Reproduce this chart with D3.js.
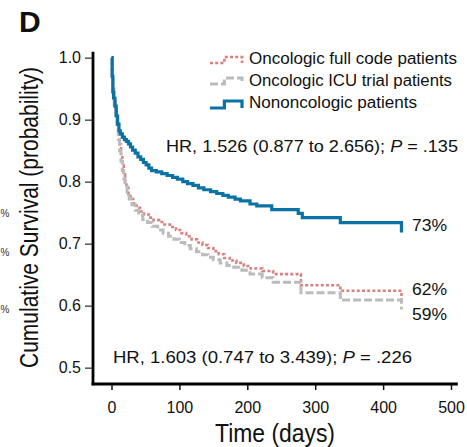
<!DOCTYPE html>
<html>
<head>
<meta charset="utf-8">
<script src="https://cdn.jsdelivr.net/npm/d3@7"></script>
<style>
  body { margin: 0; background: #fff; }
  svg { display: block; font-family: "Liberation Sans", Arial, sans-serif; }
</style>
</head>
<body>
<div class="container"></div>
<script>
const w = 467, h = 447;

// Kaplan-Meier steps: [days, survival]
const nononcologic = [
  [0, 1], [1, 0.97], [2, 0.945], [3, 0.935], [5, 0.922], [7, 0.906], [9, 0.893], [11, 0.882],
  [13, 0.877], [16, 0.872], [19, 0.868], [22, 0.865], [25, 0.861], [28, 0.856], [31, 0.851],
  [35, 0.846], [39, 0.84], [43, 0.836], [47, 0.831], [51, 0.827], [55, 0.822], [59, 0.818],
  [66, 0.816], [74, 0.813], [82, 0.81], [90, 0.807], [97, 0.804], [105, 0.8], [112, 0.797],
  [120, 0.794], [128, 0.79], [136, 0.787], [146, 0.784], [155, 0.781], [164, 0.778],
  [172, 0.775], [182, 0.772], [190, 0.769], [204, 0.764], [214, 0.761], [236, 0.755],
  [275, 0.749], [281, 0.742], [337, 0.734], [427, 0.718]
];
const fullCode = [
  [0, 1], [1, 0.97], [2, 0.95], [4, 0.93], [6, 0.914], [8, 0.895], [10, 0.877], [12, 0.86],
  [14, 0.842], [16, 0.826], [18, 0.812], [20, 0.8], [22, 0.79], [25, 0.78], [28, 0.772],
  [32, 0.765], [37, 0.758], [42, 0.752], [48, 0.747], [55, 0.742], [62, 0.738], [70, 0.735],
  [78, 0.731], [86, 0.727], [95, 0.722], [103, 0.717], [110, 0.712], [118, 0.707],
  [126, 0.702], [134, 0.698], [142, 0.693], [150, 0.688], [158, 0.683], [166, 0.677],
  [174, 0.673], [184, 0.669], [195, 0.664], [205, 0.66], [222, 0.656], [238, 0.651],
  [279, 0.633], [337, 0.624], [427, 0.611]
];
const icuTrial = [
  [0, 1], [1, 0.97], [2, 0.945], [4, 0.925], [6, 0.908], [8, 0.888], [10, 0.868], [12, 0.85],
  [14, 0.833], [16, 0.818], [18, 0.805], [20, 0.795], [23, 0.783], [26, 0.772], [30, 0.763],
  [35, 0.754], [40, 0.746], [46, 0.739], [53, 0.734], [60, 0.728], [68, 0.722], [76, 0.717],
  [84, 0.712], [92, 0.707], [100, 0.702], [108, 0.697], [116, 0.692], [125, 0.687],
  [134, 0.682], [142, 0.678], [150, 0.674], [160, 0.669], [170, 0.665], [180, 0.662],
  [192, 0.657], [204, 0.651], [222, 0.645], [238, 0.638], [279, 0.621], [337, 0.609],
  [427, 0.594]
];

const yTicks = [0.5, 0.6, 0.7, 0.8, 0.9, 1.0];
const xTicks = [0, 100, 200, 300, 400, 500];

const series = [
  { name: "Oncologic full code patients", data: fullCode, color: "#d9817f", width: 2.6, dash: "3,2.2", end: "62%" },
  { name: "Oncologic ICU trial patients", data: icuTrial, color: "#bcbcbc", width: 3, dash: "8,3", end: "59%" },
  { name: "Nononcologic patients", data: nononcologic, color: "#0b72a6", width: 3.2, dash: null, end: "73%" }
];
const endLabelY = { "73%": 231, "62%": 295, "59%": 320 };

const x = d3.scaleLinear().domain([0, 500]).range([111.5, 451]);
const y = d3.scaleLinear().domain([0.5, 1]).range([367.7, 57.7]);

const svg = d3.select(".container").append("svg")
  .attr("width", w).attr("height", h)
  .attr("viewBox", [0, 0, w, h]);

// panel letter
svg.append("text").attr("x", 19).attr("y", 32)
  .attr("font-size", 30).attr("font-weight", "bold").attr("fill", "#111").text("D");

// remnants of the neighbouring panel at the left edge
[213, 252, 309].forEach(yy => {
  svg.append("text").attr("x", 0.5).attr("y", yy + 4).attr("font-size", 10)
    .attr("fill", "#333").text("%");
});

// axes
const yAxis = svg.append("g").attr("transform", "translate(93,0)")
  .call(d3.axisLeft(y).tickValues(yTicks).tickFormat(d3.format(".1f")).tickSize(8).tickPadding(4));
yAxis.select(".domain").remove();
yAxis.selectAll("line").attr("stroke", "#555").attr("stroke-width", 1.5);
yAxis.selectAll("text").attr("font-size", 16).attr("fill", "#111")
  .attr("font-family", "Liberation Sans, Arial, sans-serif");

const xAxis = svg.append("g").attr("transform", "translate(0,384)")
  .call(d3.axisBottom(x).tickValues(xTicks).tickSize(6).tickPadding(12));
xAxis.select(".domain").remove();
xAxis.selectAll("line").attr("stroke", "#111").attr("stroke-width", 1.5);
xAxis.selectAll("text").attr("font-size", 16).attr("fill", "#111")
  .attr("font-family", "Liberation Sans, Arial, sans-serif");

svg.append("line").attr("x1", 93).attr("x2", 93).attr("y1", y(1.0097)).attr("y2", 385.3)
  .attr("stroke", "#000").attr("stroke-width", 2.8);
svg.append("line").attr("x1", 91.6).attr("x2", x(510)).attr("y1", 384).attr("y2", 384)
  .attr("stroke", "#000").attr("stroke-width", 2.8);

// axis titles
svg.append("text").attr("transform", "translate(38,217.5) rotate(-90)")
  .attr("text-anchor", "middle").attr("font-size", 25).attr("fill", "#111")
  .attr("textLength", 301).attr("lengthAdjust", "spacingAndGlyphs")
  .text("Cumulative Survival (probability)");
svg.append("text").attr("x", 275).attr("y", 442)
  .attr("text-anchor", "middle").attr("font-size", 25).attr("fill", "#111")
  .attr("textLength", 120).attr("lengthAdjust", "spacingAndGlyphs")
  .text("Time (days)");

// curves
const line = d3.line().x(d => x(d[0])).y(d => y(d[1])).curve(d3.curveStepAfter);
series.forEach(s => {
  svg.append("path").datum(s.data)
    .attr("fill", "none").attr("stroke", s.color).attr("stroke-width", s.width)
    .attr("stroke-dasharray", s.dash)
    .attr("d", line);
  svg.append("text").attr("x", 412).attr("y", endLabelY[s.end])
    .attr("font-size", 16).attr("fill", "#111")
    .attr("textLength", 35).attr("lengthAdjust", "spacingAndGlyphs").text(s.end);
});

// legend
const sample = [[0, 1], [0.45, 1], [0.45, 0], [1, 0], [1, 1]];
const legRows = [
  { low: 63, high: 57, text: 64, len: 208 },
  { low: 84, high: 78, text: 86, len: 203 },
  { low: 108, high: 101, text: 108, len: 168 }
];
series.forEach((s, i) => {
  const r = legRows[i];
  const lx = d3.scaleLinear().domain([0, 1]).range([210, 242]);
  const ly = d3.scaleLinear().domain([0, 1]).range([r.high, r.low]);
  svg.append("path").datum(sample)
    .attr("fill", "none").attr("stroke", s.color).attr("stroke-width", s.width)
    .attr("stroke-dasharray", s.dash)
    .attr("d", d3.line().x(d => lx(d[0])).y(d => ly(d[1])));
  svg.append("text").attr("x", 249).attr("y", r.text)
    .attr("font-size", 16).attr("fill", "#111")
    .attr("textLength", r.len).attr("lengthAdjust", "spacingAndGlyphs").text(s.name);
});

// hazard ratio notes
function hr(xx, yy, a, p, len) {
  const t = svg.append("text").attr("x", xx).attr("y", yy).attr("font-size", 16).attr("fill", "#111")
    .attr("textLength", len).attr("lengthAdjust", "spacingAndGlyphs");
  t.append("tspan").text(a + " ");
  t.append("tspan").attr("font-style", "italic").text("P");
  t.append("tspan").text(" = " + p);
}
hr(166, 152, "HR, 1.526 (0.877 to 2.656);", ".135", 292);
hr(113, 363, "HR, 1.603 (0.747 to 3.439);", ".226", 299);
</script>
</body>
</html>
